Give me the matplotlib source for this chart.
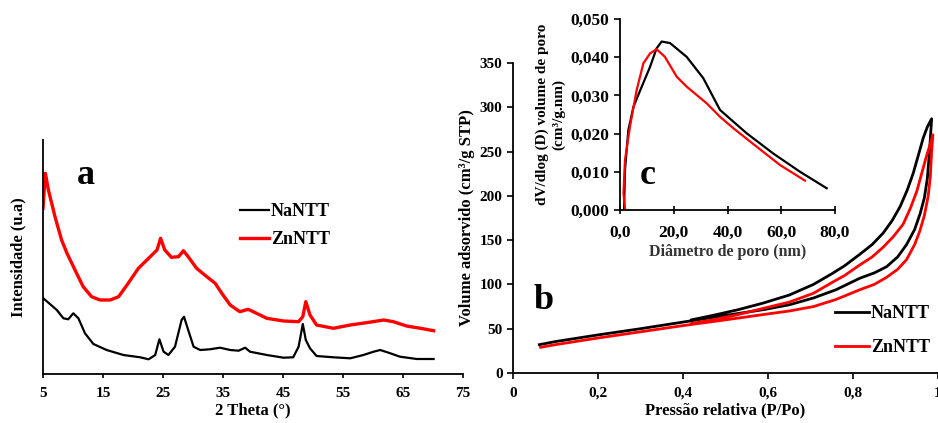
import matplotlib
matplotlib.use('Agg')
import matplotlib.pyplot as plt
from matplotlib.ticker import FuncFormatter

plt.rcParams['font.family'] = ['Liberation Serif', 'DejaVu Serif']
plt.rcParams['font.weight'] = 'bold'

# (a) XRD patterns
theta_na = [5.05, 5.9, 7.3, 8.4, 9.2, 10.05, 10.9, 12.0, 13.4, 15.6, 18.4, 21.2, 22.6, 23.7, 24.4,
            25.1, 25.9, 27.0, 28.1, 28.5, 29.2, 30.1, 31.2, 32.8, 34.5, 36.2, 37.6, 38.7, 39.5,
            42.3, 45.1, 46.7, 47.6, 48.3, 48.8, 49.5, 50.6, 53.4, 56.2, 58.4, 60.1, 61.2, 62.6,
            64.5, 67.3, 70.1]
int_na = [75.7, 71.3, 64, 55.7, 54.7, 60.7, 55.7, 40.7, 30, 24, 19, 16.7, 14.7, 19, 34.7,
          22.3, 19, 27.3, 54, 57.3, 44, 27.3, 24, 24.7, 26.3, 24, 23.3, 26.3, 22.3,
          19, 16.3, 16.7, 27.3, 50, 34, 25.7, 18, 16.7, 15.7, 19, 22.3, 24, 21.3,
          17.3, 15, 15]
theta_zn = [5.0, 5.4, 5.9, 7.0, 8.1, 9.0, 9.8, 10.6, 11.7, 13.1, 14.5, 16.2, 17.6, 19.2, 20.9,
            22.6, 24.0, 24.6, 25.3, 26.4, 27.6, 28.4, 29.2, 30.6, 32.3, 33.7, 34.8, 36.2, 37.8,
            39.2, 40.6, 42.3, 45.1, 47.6, 48.3, 48.8, 49.5, 50.6, 53.4, 56.2, 58.9, 61.8, 63.4,
            65.6, 67.9, 70.1]
int_zn = [165.7, 200.7, 184, 157.3, 134, 120.7, 110.7, 100.7, 87.3, 77.3, 74, 74, 77.3, 90.7, 105.7,
          115.7, 124, 135.7, 124, 116.7, 117.3, 123.3, 117.3, 105.7, 97.3, 90.7, 80.7, 69, 62.3,
          64.7, 60.7, 55.7, 53, 52.3, 57.3, 72.3, 59, 49, 45.7, 49, 51.3, 54, 52.3,
          48, 45.7, 43.3]
xrd_ticks = [5, 15, 25, 35, 45, 55, 65, 75]

# (b) N2 isotherms: adsorption branch then desorption branch
p_na = [0.062, 0.1, 0.2, 0.3, 0.4, 0.5, 0.589, 0.65, 0.707, 0.76, 0.816, 0.85, 0.879, 0.905, 0.926,
        0.945, 0.958, 0.968, 0.975, 0.98, 0.985,
        0.975, 0.965, 0.955, 0.942, 0.928, 0.911, 0.892, 0.871, 0.845, 0.816, 0.78, 0.75, 0.707,
        0.65, 0.589, 0.53, 0.47, 0.42]
v_na = [32, 35.5, 43, 50, 57.5, 65, 71.5, 77, 84.7, 94, 107, 113, 120, 131, 145,
        162, 180, 198, 220, 250, 287,
        278, 265, 248, 226, 207, 188, 172, 158, 145, 134, 121, 112, 100,
        88, 79, 71.5, 65, 60]
p_zn = [0.065, 0.1, 0.2, 0.3, 0.4, 0.5, 0.589, 0.65, 0.707, 0.76, 0.816, 0.85, 0.879, 0.905, 0.926,
        0.945, 0.957, 0.968, 0.977, 0.982, 0.985, 0.988,
        0.982, 0.973, 0.962, 0.95, 0.935, 0.918, 0.895, 0.871, 0.845, 0.816, 0.78, 0.75, 0.707,
        0.65, 0.589, 0.53, 0.47, 0.42]
v_zn = [29, 32, 39.5, 46.5, 53.5, 60, 66, 70, 75, 83, 94, 100, 108, 117, 128,
        145, 160, 178, 200, 222, 250, 269,
        259, 245, 226, 205, 186, 168, 154, 142, 131, 122, 110, 102, 90,
        80, 73, 66, 60, 56]

# (c) pore size distribution
d_na = [1.5, 1.86, 3.1, 5.0, 8.1, 11.2, 13.6, 15.5, 18.6, 24.8, 31.0, 37.2, 47.1, 57.0, 67.0, 76.9]
dv_na = [0.0, 0.0105, 0.0209, 0.027, 0.0323, 0.0375, 0.0423, 0.0441, 0.0437, 0.0401, 0.0345,
         0.0262, 0.0201, 0.0148, 0.0100, 0.0057]
d_zn = [1.9, 1.3, 1.86, 3.7, 6.2, 8.7, 11.2, 13.6, 16.7, 21.1, 24.8, 32.3, 37.2, 42.2, 50.8, 59.5, 68.8]
dv_zn = [0.0, 0.0044, 0.0131, 0.0218, 0.0314, 0.0384, 0.0410, 0.0421, 0.0401, 0.0349, 0.0323,
         0.0279, 0.0244, 0.0214, 0.0166, 0.0118, 0.0077]

comma = FuncFormatter(lambda v, pos: ('%g' % v).replace('.', ','))

fig = plt.figure(figsize=(9.38, 4.23), dpi=100)

W, H = 938.0, 423.0
def place(x0, y0, x1, y1):
    # pixel box (left, top, right, bottom) -> figure fraction
    return [x0 / W, 1 - y1 / H, (x1 - x0) / W, (y1 - y0) / H]

# ---- panel a
ax_a = fig.add_axes(place(43, 140, 463, 374))
ax_a.plot(theta_na, int_na, color='black', linewidth=1.6, label='NaNTT')
ax_a.plot(theta_zn, int_zn, color='#ff0000', linewidth=2.4, label='ZnNTT')
ax_a.set_xlim(5, 75)
ax_a.set_ylim(0, 234)
ax_a.set_xticks(xrd_ticks)
ax_a.set_yticks([])
ax_a.spines[['top', 'right']].set_visible(False)
ax_a.spines[['left', 'bottom']].set_linewidth(1.3)
ax_a.tick_params(axis='x', direction='out', length=3, width=1.2, labelsize=11, pad=6)
ax_a.set_xlabel('2 Theta (°)', fontsize=12, fontweight='bold', labelpad=2)
ax_a.set_ylabel('Intensidade (u.a)', fontsize=12, fontweight='bold', labelpad=12)
ax_a.text(77 / W, 1 - 176 / H, 'a', transform=fig.transFigure, fontsize=26, fontweight='bold',
          va='center')
ax_a.legend(loc='upper left', bbox_to_anchor=(240 / W, 1 - 203 / H), bbox_transform=fig.transFigure,
            frameon=False, fontsize=13, handlelength=1.6, handletextpad=0.1, borderpad=0,
            borderaxespad=0, labelspacing=0.62)

# ---- panel b
ax_b = fig.add_axes(place(513, 63, 938, 373))
ax_b.plot(p_na, v_na, color='black', linewidth=2.0, label='NaNTT')
ax_b.plot(p_zn, v_zn, color='#ff0000', linewidth=2.0, label='ZnNTT')
ax_b.set_xlim(0, 1)
ax_b.set_ylim(0, 350)
ax_b.set_xticks([0, 0.2, 0.4, 0.6, 0.8, 1.0])
ax_b.set_yticks(range(0, 351, 50))
ax_b.xaxis.set_major_formatter(comma)
ax_b.spines[['top', 'right']].set_visible(False)
ax_b.spines[['left', 'bottom']].set_linewidth(1.3)
ax_b.tick_params(direction='out', length=4, width=1.2, labelsize=11)
ax_b.tick_params(axis='x', pad=6)
ax_b.set_xlabel('Pressão relativa (P/Po)', fontsize=12, fontweight='bold', labelpad=2)
ax_b.set_ylabel('Volume adsorvido (cm³/g STP)', fontsize=12, fontweight='bold', labelpad=3)
ax_b.text(534 / W, 1 - 300 / H, 'b', transform=fig.transFigure, fontsize=26, fontweight='bold',
          va='center')
ax_b.legend(loc='upper left', bbox_to_anchor=(835 / W, 1 - 305 / H), bbox_transform=fig.transFigure,
            frameon=False, fontsize=13, handlelength=1.9, handletextpad=0.1, borderpad=0,
            borderaxespad=0, labelspacing=0.95)

# ---- panel c (inset)
ax_c = fig.add_axes(place(620, 19, 835, 210))
ax_c.patch.set_alpha(0)
ax_c.plot(d_na, dv_na, color='black', linewidth=1.6)
ax_c.plot(d_zn, dv_zn, color='#ff0000', linewidth=1.6)
ax_c.set_xlim(0, 80)
ax_c.set_ylim(0, 0.05)
ax_c.set_xticks([0, 20, 40, 60, 80])
ax_c.set_yticks([0, 0.01, 0.02, 0.03, 0.04, 0.05])
ax_c.xaxis.set_major_formatter(FuncFormatter(lambda v, pos: ('%.1f' % v).replace('.', ',')))
ax_c.yaxis.set_major_formatter(FuncFormatter(lambda v, pos: ('%.3f' % v).replace('.', ',')))
ax_c.spines[['top', 'right']].set_visible(False)
ax_c.spines[['left', 'bottom']].set_linewidth(1.3)
ax_c.tick_params(axis='y', direction='out', length=4, width=1.2, labelsize=12.5)
ax_c.tick_params(axis='x', direction='inout', length=6, width=1.2, labelsize=12.5, pad=8)
ax_c.set_xlabel('Diâmetro de poro (nm)', fontsize=11.5, fontweight='bold', labelpad=2,
                color='#333333')
ax_c.set_ylabel('dV/dlog (D) volume de poro\n(cm³/g.nm)', fontsize=11, fontweight='bold',
                labelpad=4, linespacing=1.3)
ax_c.text(640 / W, 1 - 176 / H, 'c', transform=fig.transFigure, fontsize=26, fontweight='bold',
          va='center')

fig.savefig('out.png', dpi=100)
